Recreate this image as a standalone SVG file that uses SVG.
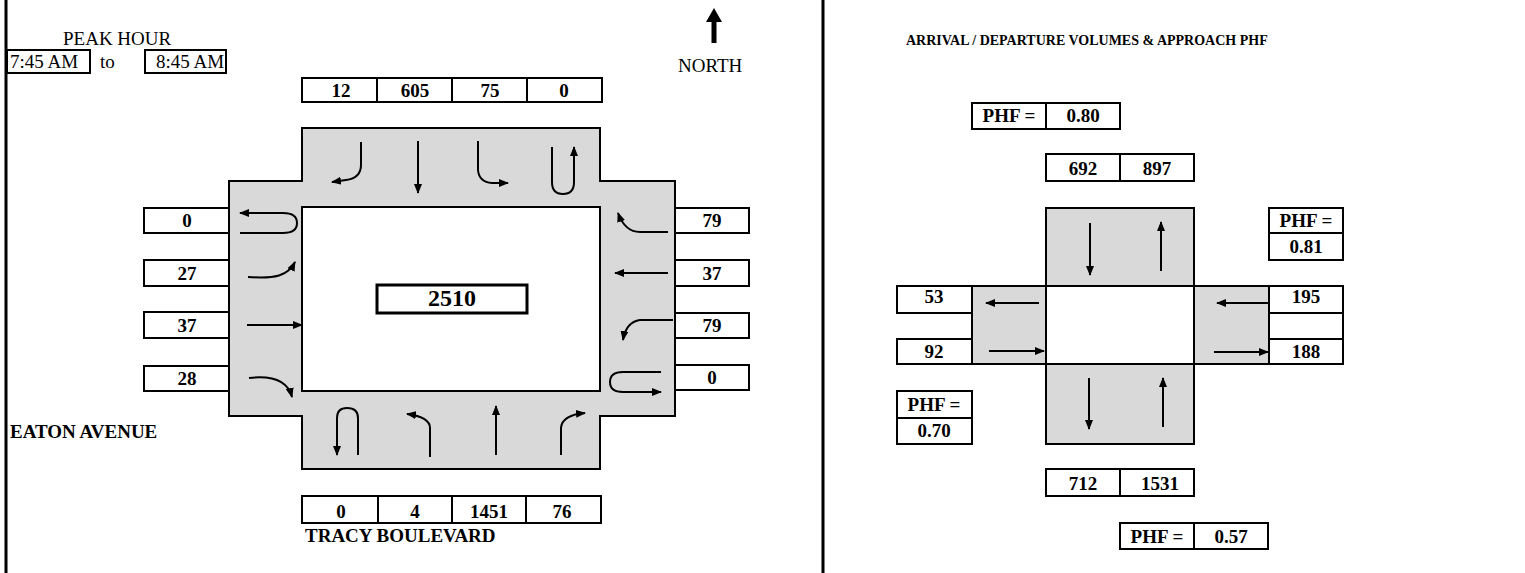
<svg xmlns="http://www.w3.org/2000/svg" width="1525" height="573" viewBox="0 0 1525 573">
<style>
.box{fill:#fff;stroke:#000;stroke-width:2}
.sh{fill:#d9d9d9;stroke:#000;stroke-width:2}
.ln{fill:none;stroke:#000;stroke-width:3}
.t{font-family:"Liberation Serif","Times New Roman",serif;font-size:19px;fill:#000}
.b{font-weight:bold}
.c{text-anchor:middle}
.arr{fill:none;stroke:#000;stroke-width:2;marker-end:url(#ah)}
</style>
<defs>
<marker id="ah" viewBox="0 0 10 8" refX="9" refY="4" markerWidth="10" markerHeight="8" markerUnits="userSpaceOnUse" orient="auto">
<path d="M0,0 L10,4 L0,8 Z" fill="#000"/>
</marker>
</defs>
<rect width="1525" height="573" fill="#fff"/>
<g id="frame">
<line class="ln" x1="6" y1="0" x2="6" y2="573"/>
<line class="ln" x1="823" y1="0" x2="823" y2="573"/>
</g>
<g id="peak-hour">
<text class="t" x="63" y="45">PEAK HOUR</text>
<rect class="box" x="7" y="50" width="83" height="23"/>
<text class="t" x="10" y="68">7:45 AM</text>
<text class="t" x="100" y="68">to</text>
<rect class="box" x="145" y="50" width="81" height="23"/>
<text class="t" x="156" y="68">8:45 AM</text>
</g>
<g id="north">
<path d="M711.5,43 V22 H706 L714,8 L722,22 H716.5 V43 Z" fill="#000"/>
<text class="t" x="678" y="72">NORTH</text>
</g>
<g id="intersection">
<path class="sh" d="M302,128 H600 V181 H675 V416 H600 V469 H302 V416 H229 V181 H302 Z"/>
<rect class="box" x="302" y="207" width="298" height="184"/>
<rect x="377" y="285" width="150" height="28" fill="#fff" stroke="#000" stroke-width="3"/>
<text class="t b c" x="452" y="306" style="font-size:24px">2510</text>
</g>
<g id="sb-counts">
<rect class="box" x="302" y="78" width="75" height="24"/>
<rect class="box" x="377" y="78" width="75" height="24"/>
<rect class="box" x="452" y="78" width="75" height="24"/>
<rect class="box" x="527" y="78" width="75" height="24"/>
<text class="t b c" x="341" y="97">12</text>
<text class="t b c" x="415" y="97">605</text>
<text class="t b c" x="490" y="97">75</text>
<text class="t b c" x="564" y="97">0</text>
</g>
<g id="nb-counts">
<rect class="box" x="302" y="496" width="76" height="27"/>
<rect class="box" x="378" y="496" width="74" height="27"/>
<rect class="box" x="452" y="496" width="74" height="27"/>
<rect class="box" x="526" y="496" width="75" height="27"/>
<text class="t b c" x="341" y="518">0</text>
<text class="t b c" x="415" y="518">4</text>
<text class="t b c" x="489" y="518">1451</text>
<text class="t b c" x="562" y="518">76</text>
<text class="t b" x="305" y="542">TRACY BOULEVARD</text>
</g>
<g id="eb-counts">
<rect class="box" x="144" y="208" width="85" height="25"/>
<rect class="box" x="144" y="260" width="85" height="26"/>
<rect class="box" x="144" y="312" width="85" height="26"/>
<rect class="box" x="144" y="366" width="85" height="25"/>
<text class="t b c" x="187" y="227">0</text>
<text class="t b c" x="187" y="280">27</text>
<text class="t b c" x="187" y="332">37</text>
<text class="t b c" x="187" y="385">28</text>
<text class="t b" x="10" y="438">EATON AVENUE</text>
</g>
<g id="wb-counts">
<rect class="box" x="675" y="208" width="74" height="25"/>
<rect class="box" x="675" y="260" width="74" height="26"/>
<rect class="box" x="675" y="313" width="74" height="25"/>
<rect class="box" x="675" y="365" width="74" height="25"/>
<text class="t b c" x="712" y="227">79</text>
<text class="t b c" x="712" y="280">37</text>
<text class="t b c" x="712" y="332">79</text>
<text class="t b c" x="712" y="384">0</text>
</g>
<g id="title">
<text class="t b" x="906" y="45" style="font-size:14px">ARRIVAL / DEPARTURE VOLUMES &amp; APPROACH PHF</text>
</g>
<g id="summary">
<rect class="sh" x="1046" y="208" width="148" height="78"/>
<rect class="sh" x="972" y="286" width="74" height="78"/>
<rect class="sh" x="1194" y="286" width="75" height="78"/>
<rect class="sh" x="1046" y="364" width="148" height="80"/>
<rect class="box" x="1046" y="286" width="148" height="78"/>
</g>
<g id="north-approach">
<rect class="box" x="972" y="103" width="74" height="26"/>
<rect class="box" x="1046" y="103" width="74" height="26"/>
<text class="t b c" x="1009" y="122">PHF =</text>
<text class="t b c" x="1083" y="122">0.80</text>
<rect class="box" x="1046" y="154" width="74" height="27"/>
<rect class="box" x="1120" y="154" width="74" height="27"/>
<text class="t b c" x="1083" y="175">692</text>
<text class="t b c" x="1157" y="175">897</text>
</g>
<g id="east-approach">
<rect class="box" x="1269" y="208" width="74" height="25"/>
<rect class="box" x="1269" y="233" width="74" height="27"/>
<text class="t b c" x="1306" y="227">PHF =</text>
<text class="t b c" x="1306" y="253">0.81</text>
<rect class="box" x="1269" y="286" width="74" height="27"/>
<rect class="box" x="1269" y="313" width="74" height="26"/>
<rect class="box" x="1269" y="339" width="74" height="25"/>
<text class="t b c" x="1306" y="303">195</text>
<text class="t b c" x="1306" y="358">188</text>
</g>
<g id="west-approach">
<rect class="box" x="897" y="286" width="75" height="27"/>
<rect class="box" x="897" y="339" width="75" height="25"/>
<text class="t b c" x="934" y="303">53</text>
<text class="t b c" x="934" y="358">92</text>
<rect class="box" x="897" y="391" width="75" height="27"/>
<rect class="box" x="897" y="418" width="75" height="26"/>
<text class="t b c" x="934" y="411">PHF =</text>
<text class="t b c" x="934" y="437">0.70</text>
</g>
<g id="south-approach">
<rect class="box" x="1046" y="469" width="74" height="27"/>
<rect class="box" x="1120" y="469" width="74" height="27"/>
<text class="t b c" x="1083" y="490">712</text>
<text class="t b c" x="1160" y="490">1531</text>
<rect class="box" x="1120" y="523" width="74" height="26"/>
<rect class="box" x="1194" y="523" width="74" height="26"/>
<text class="t b c" x="1157" y="543">PHF =</text>
<text class="t b c" x="1231" y="543">0.57</text>
</g>
<g id="connectors">
<path class="arr" d="M361,142 V165 Q361,178 346,180 L332,182"/>
<path class="arr" d="M418,141 V193"/>
<path class="arr" d="M478,141 V170 Q479,182 492,183 L508,183"/>
<path class="arr" d="M552,147 V182 Q552,194 563,194 Q574,194 574,182 V147"/>
<path class="arr" d="M240,233 H283 Q297,233 297,223 Q297,213 283,213 H240"/>
<path class="arr" d="M248,277 C275,279 288,276 295,262"/>
<path class="arr" d="M247,325 H302"/>
<path class="arr" d="M249,378 C275,375 288,382 292,397"/>
<path class="arr" d="M668,232 H640 Q625,232 618,213"/>
<path class="arr" d="M668,273 H615"/>
<path class="arr" d="M673,320 H640 Q626,322 623,340"/>
<path class="arr" d="M661,372 H623 Q610,372 610,382 Q610,392 623,392 H661"/>
<path class="arr" d="M358,455 V418 Q358,408 347,408 Q337,408 337,418 V455"/>
<path class="arr" d="M430,457 V428 Q430,417 407,414"/>
<path class="arr" d="M496,455 V406"/>
<path class="arr" d="M561,455 V428 Q562,415 585,413"/>
<path class="arr" d="M1090,223 V275"/>
<path class="arr" d="M1161,271 V222"/>
<path class="arr" d="M1039,303 H986"/>
<path class="arr" d="M989,351 H1044"/>
<path class="arr" d="M1089,378 V429"/>
<path class="arr" d="M1163,427 V378"/>
<path class="arr" d="M1268,303 H1217"/>
<path class="arr" d="M1214,352 H1268"/>
</g>
</svg>
